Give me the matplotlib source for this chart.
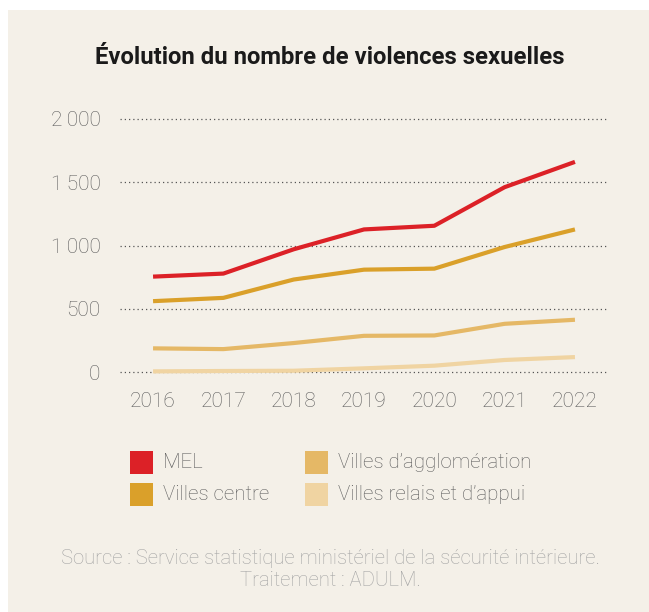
import matplotlib
matplotlib.use("Agg")
import matplotlib.pyplot as plt
from matplotlib.patches import Rectangle
from matplotlib.ticker import FixedLocator

plt.rcParams['font.family'] = ['Roboto', 'DejaVu Sans']

years = [2016, 2017, 2018, 2019, 2020, 2021, 2022]
mel = [754, 778, 970, 1127, 1156, 1461, 1661]
villes_centre = [560, 586, 731, 809, 817, 988, 1127]
villes_agglo = [187, 181, 229, 286, 289, 381, 413]
villes_relais = [5, 8, 10, 29, 50, 95, 118]

series_names = ["MEL", "Villes centre", "Villes d\u2019agglomération", "Villes relais et d\u2019appui"]
series_values = [mel, villes_centre, villes_agglo, villes_relais]
colors = ["#dc2127", "#daa02a", "#e5b866", "#f0d4a2"]

y_ticks = [0, 500, 1000, 1500, 2000]
y_tick_labels = ["0", "500", "1\u2009000", "1\u2009500", "2\u2009000"]

title = "Évolution du nombre de violences sexuelles"
source = "Source : Service statistique ministériel de la sécurité intérieure.\nTraitement : ADULM."

W, H = 649, 612
fig = plt.figure(figsize=(W / 100, H / 100), dpi=100)
fig.patch.set_facecolor("white")
bg = "#f4f0e8"
fig.patches.append(Rectangle((8 / W, 0), 1 - 8 / W, 1 - 10 / H, transform=fig.transFigure,
                             facecolor=bg, edgecolor="none", zorder=-10))

ax = fig.add_axes([120 / W, 1 - 379.6 / H, 488 / W, 268.2 / H])
ax.set_facecolor("none")
for sp in ax.spines.values():
    sp.set_visible(False)

for name, vals, c in zip(series_names, series_values, colors):
    ax.plot(years, vals, color=c, lw=3.0, solid_capstyle="butt", solid_joinstyle="round",
            zorder=3, clip_on=False)

ax.set_xlim(2015.53, 2022.47)
ax.set_ylim(-60, 2060)
ax.yaxis.set_major_locator(FixedLocator(y_ticks))
ax.set_yticklabels(y_tick_labels)
ax.set_xticks(years)
ax.set_xticklabels([str(y) for y in years])
ax.tick_params(axis="both", length=0, labelsize=15, labelcolor="#5c5c5c")
ax.tick_params(axis="y", pad=14)
ax.tick_params(axis="x", pad=9)
for lab in ax.get_xticklabels() + ax.get_yticklabels():
    lab.set_fontweight("light")
ax.grid(axis="y", color="#555555", linestyle=(0, (1, 2.4)), lw=0.9)
ax.grid(axis="x", visible=False)
ax.set_axisbelow(True)

fig.text(330 / W, 1 - 58 / H, title, ha="center", va="center", fontsize=17.2,
         fontweight="bold", color="#1a1a1a")

# legend
leg_pos = [(130, 462), (130, 494), (305, 462), (305, 494)]
for (x, y), name, c in zip(leg_pos, series_names, colors):
    fig.patches.append(Rectangle((x / W, 1 - (y + 11.5) / H), 23 / W, 23 / H,
                                 transform=fig.transFigure, facecolor=c, edgecolor="none"))
    fig.text((x + 33) / W, 1 - (y + 1) / H, name, ha="left", va="center", fontsize=14.8,
             fontweight="light", color="#5c5c5c")

fig.text(330 / W, 1 - 569 / H, source, ha="center", va="center", fontsize=14.6,
         fontweight="light", color="#a3a3a3", linespacing=1.2)

fig.savefig("out.png", dpi=100, facecolor=fig.get_facecolor())
